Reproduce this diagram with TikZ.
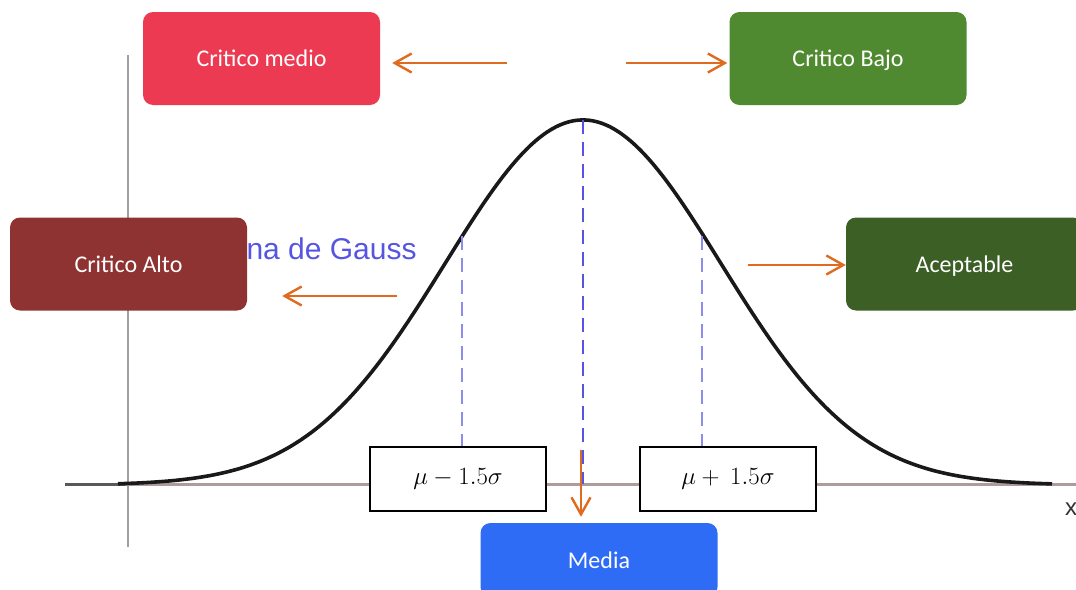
\documentclass[tikz,border=0pt]{standalone}
\usepackage{fontspec}
\setmainfont{Carlito}
\newfontfamily\arialfont{Liberation Sans}
\usepackage{tikz}
\usetikzlibrary{arrows.meta,calc,positioning}
\definecolor{CritMedio}{RGB}{236, 58, 82}
\definecolor{CritBajo} {RGB}{ 80,138, 48}
\definecolor{CritAlto} {RGB}{142, 50, 50}
\definecolor{Acept}    {RGB}{ 59, 95, 36}
\definecolor{MediaAz}  {RGB}{ 47,108,246}
\definecolor{Naranja}  {RGB}{224,106, 30}
\definecolor{GuiaAz}   {RGB}{ 85, 85,225}
\definecolor{GuiaClaro}{RGB}{140,140,235}
\definecolor{EjeGris}  {RGB}{175,155,155}

\begin{document}
\begin{tikzpicture}[x=1pt,y=-1pt,
  caja/.style={rounded corners=10pt,text=white,minimum width=237pt,minimum height=93pt,
               inner sep=0pt,text height=17pt,text depth=1pt,font=\fontsize{24}{28}\selectfont},
  formula/.style={draw=black,fill=white,line width=1.2pt,minimum width=176pt,minimum height=64pt,
                  inner sep=0pt,font=\fontsize{23}{27}\selectfont},
  flecha/.style={draw=Naranja,line width=2.4pt,-{Straight Barb[length=17pt,width=19pt]}},
  guia/.style={dash pattern=on 14pt off 8pt,line width=2.5pt}]
\useasboundingbox (0,0) rectangle (1076,589);
\draw[gray!75,line width=2pt] (128,55) -- (128,547);
\draw[EjeGris,line width=3pt] (65,484) -- (1076,484);
\draw[black!65,line width=3pt] (65,484) -- (125,484);
\node[anchor=base west,text=GuiaAz,font=\arialfont\fontsize{30}{34}\selectfont] (titulo) at (243,259) {na de Gauss};
\node[text=black!80,font=\arialfont\fontsize{24}{28}\selectfont] (ejex) at (1071,509) {x};
\draw[black!90,line width=3.6pt,smooth] plot[domain=118:1052,samples=200] (\x,{485-365*exp(-((\x-583)/138)^2/2)});
\draw[guia,GuiaAz] (583,120) -- (583,484);
\draw[guia,GuiaClaro] (462,236) -- (462,480);
\draw[guia,GuiaClaro] (702,236) -- (702,480);
\node[formula] (menos) at (458,479) {$\mu-1.5\sigma$};
\node[formula] (mas) at (728,479) {$\mu+\ 1.5\sigma$};
\node[caja,fill=CritMedio] (medio) at (261.5,58.5) {Critico medio};
\node[caja,fill=CritBajo] (bajo) at (848,58.5) {Critico Bajo};
\node[caja,fill=CritAlto] (alto) at (128.5,264) {Critico Alto};
\node[caja,fill=Acept] (acept) at (964.5,264) {Aceptable};
\node[caja,fill=MediaAz,minimum height=74pt] (media) at (599,560) {Media};
\coordinate (deMedio) at (507,63);
\coordinate (deBajo) at (626,63);
\coordinate (deAlto) at (397,296);
\coordinate (deAcept) at (748,265);
\coordinate (deMedia) at (581,450);
\draw[flecha,shorten >=12pt] (deMedio) -- (medio.east |- deMedio);
\draw[flecha,shorten >=2pt] (deBajo) -- (bajo.west |- deBajo);
\draw[flecha,shorten >=35pt] (deAlto) -- (alto.east |- deAlto);
\draw[flecha] (deAcept) -- (acept.west |- deAcept);
\draw[flecha,shorten >=6pt] (deMedia) -- (media.north -| deMedia);
\end{tikzpicture}
\end{document}
